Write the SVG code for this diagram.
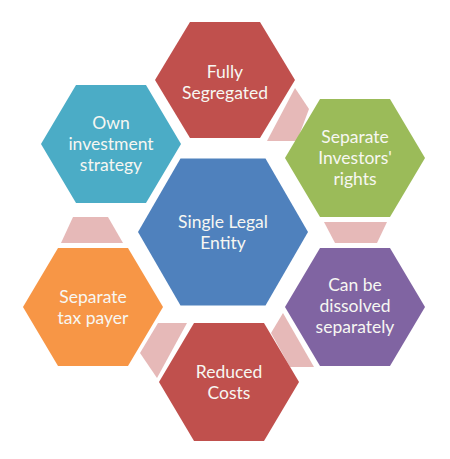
<svg xmlns="http://www.w3.org/2000/svg" width="450" height="459" viewBox="0 0 450 459">
<style>
text{font-family:Lato,"Liberation Sans",sans-serif;font-size:17.5px;fill:#f7f7f2;text-anchor:middle}
.pink{fill:#e6b9b8}
</style>
<rect width="450" height="459" fill="#ffffff"/>
<g id="connectors">
<polygon class="pink" points="295,88 309,109 297,141 267,141"/>
<polygon class="pink" points="324,222 387,222 377,243 335,243"/>
<polygon class="pink" points="283,313 271,333 290,367 314,367"/>
<polygon class="pink" points="158,323 187,323 157,378 140,353"/>
<polygon class="pink" points="73,217 108,217 123,243 61,243"/>
</g>
<g id="node-center">
<polygon fill="#4f81bd" points="180.5,158.5 265.5,158.5 308,232 265.5,305.5 180.5,305.5 138,232"/>
<text x="223" y="228">Single Legal</text>
<text x="223" y="249">Entity</text>
</g>
<g id="node-fully-segregated">
<polygon fill="#c0504d" points="190,22 260,22 295,80 260,138 190,138 155,80"/>
<text x="225" y="78">Fully</text>
<text x="225" y="99">Segregated</text>
</g>
<g id="node-investors-rights">
<polygon fill="#9bbb59" points="320,99 390,99 425,158 390,217 320,217 285,158"/>
<text x="355" y="143">Separate</text>
<text x="355" y="164">Investors'</text>
<text x="355" y="185">rights</text>
</g>
<g id="node-dissolved">
<polygon fill="#8064a2" points="320,248 390,248 425,307 390,366 320,366 285,307"/>
<text x="355" y="291">Can be</text>
<text x="355" y="312">dissolved</text>
<text x="355" y="333">separately</text>
</g>
<g id="node-reduced-costs">
<polygon fill="#c0504d" points="194,323 264,323 299,382 264,441 194,441 159,382"/>
<text x="229" y="378">Reduced</text>
<text x="229" y="399">Costs</text>
</g>
<g id="node-tax-payer">
<polygon fill="#f79646" points="58,248 128,248 163,307 128,366 58,366 23,307"/>
<text x="93" y="303">Separate</text>
<text x="93" y="324">tax payer</text>
</g>
<g id="node-investment-strategy">
<polygon fill="#4bacc6" points="76,85 146,85 181,144 146,203 76,203 41,144"/>
<text x="111" y="129">Own</text>
<text x="111" y="150">investment</text>
<text x="111" y="171">strategy</text>
</g>
</svg>
